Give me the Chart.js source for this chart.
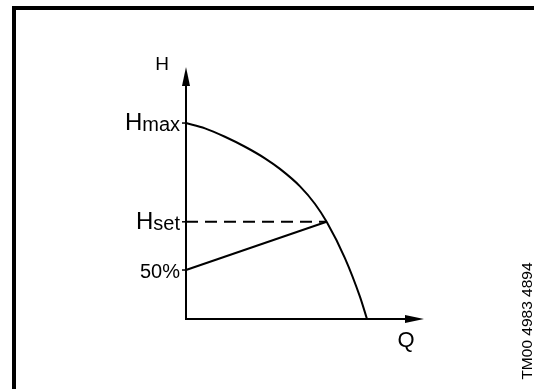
<!DOCTYPE html>
<html>
<head>
<meta charset="utf-8">
<script src="https://cdn.jsdelivr.net/npm/chart.js@4/dist/chart.umd.min.js"></script>
<style>
  html, body { margin: 0; padding: 0; background: #fff; }
  canvas { display: block; }
</style>
</head>
<body>
<canvas id="pump_chart" width="534" height="389"></canvas>
<script>
// pump curve, Q and H in % of Qmax / Hmax
const qCurve = [0, 10.5, 21.5, 32.6, 43.6, 51.9, 63, 71.3, 77.7, 87.8, 96.1, 100];
const hCurve = [100, 97.3, 93, 87.9, 82.0, 76.6, 67.7, 58.7, 49.6, 31.1, 11.4, 0];

// set point and the proportional control line
const qSet = 77.7;
const hSet = 49.6;
const hHalf = 25;

// labels on the H axis
const labelValues = [100, hSet, hHalf];
const labelMain = ['H', 'H', '50%'];
const labelSub = ['max', 'set', ''];

const axisMaxQ = 131.5;
const axisMaxH = 128.6;
const FONT = '"Liberation Sans", Arial, Helvetica, sans-serif';

const drawing = {
    id: 'drawing',
    afterDatasetsDraw(chart) {
        const ctx = chart.ctx;
        const xs = chart.scales.x;
        const ys = chart.scales.y;
        const x0 = xs.getPixelForValue(0);
        const y0 = ys.getPixelForValue(0);
        const xTip = xs.getPixelForValue(axisMaxQ);
        const yTip = ys.getPixelForValue(axisMaxH);

        ctx.save();
        ctx.fillStyle = '#000';
        ctx.strokeStyle = '#000';

        // frame (left + top only)
        ctx.fillRect(12, 6, 4, 383);
        ctx.fillRect(12, 6, 522, 4);

        // axes
        ctx.lineWidth = 2;
        ctx.beginPath();
        ctx.moveTo(x0, yTip + 10);
        ctx.lineTo(x0, y0);
        ctx.lineTo(xTip - 10, y0);
        ctx.stroke();

        // arrow heads
        ctx.beginPath();
        ctx.moveTo(x0, yTip);
        ctx.lineTo(x0 - 4, yTip + 19);
        ctx.lineTo(x0 + 4, yTip + 19);
        ctx.closePath();
        ctx.fill();
        ctx.beginPath();
        ctx.moveTo(xTip, y0);
        ctx.lineTo(xTip - 19, y0 - 4);
        ctx.lineTo(xTip - 19, y0 + 4);
        ctx.closePath();
        ctx.fill();

        // little ticks on the H axis
        ctx.lineWidth = 1.5;
        labelValues.forEach(function(v) {
            const y = ys.getPixelForValue(v);
            ctx.beginPath();
            ctx.moveTo(x0 - 4, y);
            ctx.lineTo(x0, y);
            ctx.stroke();
        });

        // axis names
        ctx.textAlign = 'center';
        ctx.textBaseline = 'middle';
        ctx.font = '19px ' + FONT;
        ctx.fillText('H', x0 - 24, yTip - 2);
        ctx.font = '22px ' + FONT;
        ctx.fillText('Q', xTip - 18, y0 + 22);

        // H axis labels, drawn right to left so the subscript sits against the axis
        ctx.textBaseline = 'alphabetic';
        ctx.textAlign = 'right';
        labelValues.forEach(function(v, i) {
            const y = ys.getPixelForValue(v);
            let right = x0 - 6;
            if (labelSub[i]) {
                ctx.font = '20px ' + FONT;
                ctx.fillText(labelSub[i], right, y + 8);
                right -= ctx.measureText(labelSub[i]).width;
                ctx.font = '24px ' + FONT;
                ctx.fillText(labelMain[i], right, y + 7);
            } else {
                ctx.font = '20px ' + FONT;
                ctx.fillText(labelMain[i], right, y + 8);
            }
        });

        // drawing number
        ctx.translate(527.5, 321);
        ctx.rotate(-Math.PI / 2);
        ctx.textAlign = 'center';
        ctx.textBaseline = 'middle';
        ctx.font = '15.5px ' + FONT;
        ctx.fillText('TM00 4983 4894', 0, 0);
        ctx.restore();
    }
};

const ctx = document.getElementById('pump_chart').getContext('2d');
const pumpChart = new Chart(ctx, {
    type: 'scatter',
    data: {
        datasets: [{
            label: 'pump curve',
            data: qCurve.map((q, i) => ({ x: q, y: hCurve[i] })),
            showLine: true,
            borderColor: '#000',
            borderWidth: 2,
            cubicInterpolationMode: 'monotone',
            pointRadius: 0,
            clip: false
        }, {
            label: 'Hset',
            data: [{ x: 0, y: hSet }, { x: qSet, y: hSet }],
            showLine: true,
            borderColor: '#000',
            borderWidth: 2,
            borderDash: [12, 7],
            pointRadius: 0,
            clip: false
        }, {
            label: 'control',
            data: [{ x: 0, y: hHalf }, { x: qSet, y: hSet }],
            showLine: true,
            borderColor: '#000',
            borderWidth: 2,
            pointRadius: 0,
            clip: false
        }]
    },
    options: {
        responsive: false,
        animation: false,
        devicePixelRatio: 1,
        layout: {
            padding: { left: 186, right: 110, top: 67, bottom: 70 }
        },
        plugins: {
            legend: { display: false },
            tooltip: { enabled: false },
            title: { display: false }
        },
        scales: {
            x: { type: 'linear', display: false, min: 0, max: axisMaxQ },
            y: { type: 'linear', display: false, min: 0, max: axisMaxH }
        }
    },
    plugins: [drawing]
});
</script>
</body>
</html>
